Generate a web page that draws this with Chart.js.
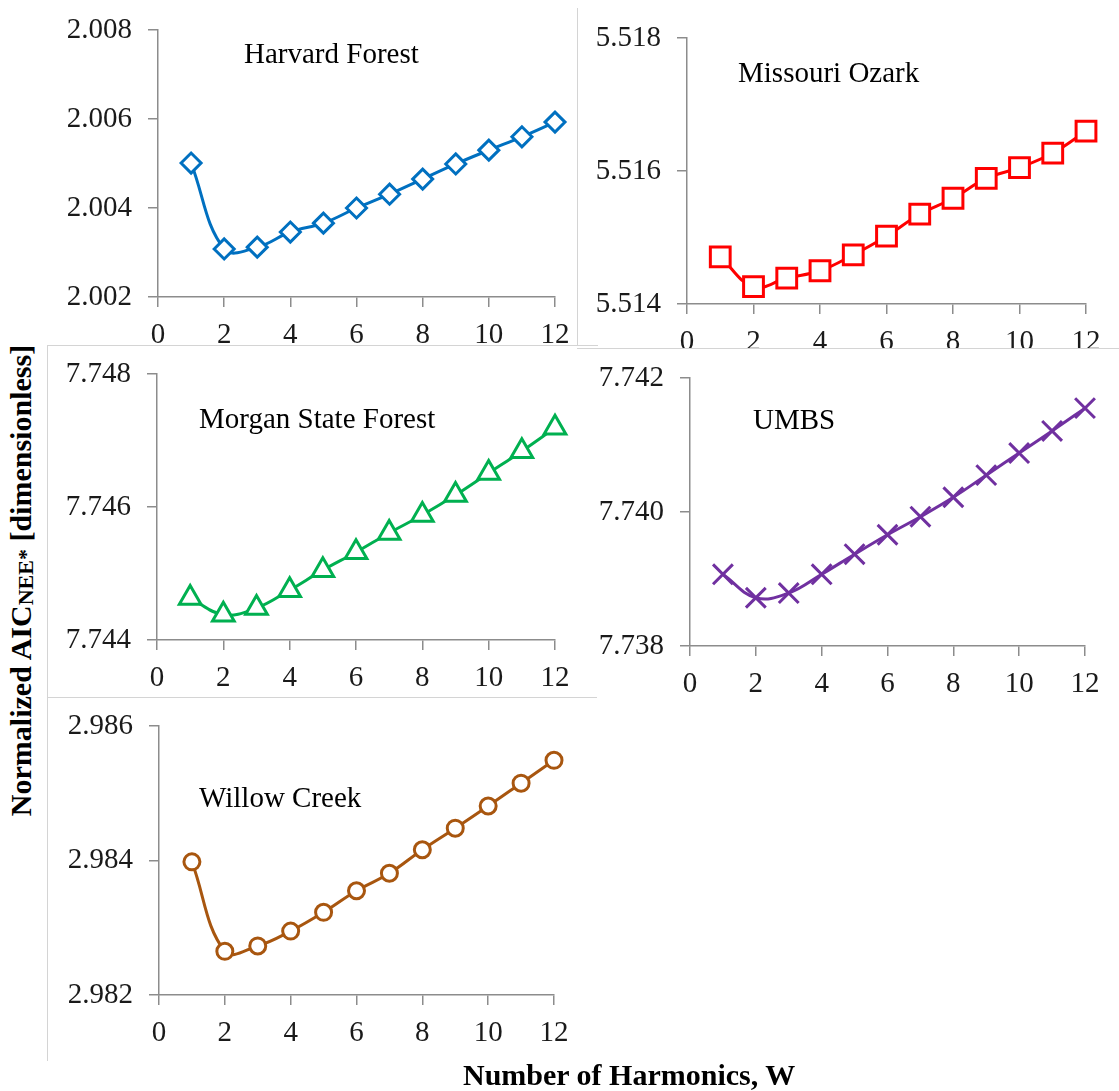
<!DOCTYPE html>
<html>
<head>
<meta charset="utf-8">
<script src="https://cdn.jsdelivr.net/npm/chart.js@4.4.1/dist/chart.umd.min.js"></script>
<style>
  body { margin: 0; background: #fff; }
  #page { position: relative; width: 1119px; height: 1091px; overflow: hidden; background: #fff; font-family: "Liberation Serif", "Times New Roman", serif; }
  canvas { position: absolute; }
  .frame { position: absolute; background: #fff; border-color: #d4d4d4; border-style: solid; border-width: 0; }
  .site { position: absolute; font-size: 29px; line-height: 1; color: #000; white-space: nowrap; }
  .axtitle { position: absolute; font-weight: bold; font-size: 30px; line-height: 1; white-space: nowrap; color: #000; }
  .axtitle sub { font-size: 22px; vertical-align: -2px; }
</style>
</head>
<body>
<div id="page">
  <div class="frame" style="left:577px;top:8px;width:0;height:340px;border-left-width:1px;background:none;"></div>
</div>
<script>
// данные с графика
var harmonics = [1, 2, 3, 4, 5, 6, 7, 8, 9, 10, 11, 12];
var xTicks = [0, 2, 4, 6, 8, 10, 12];

var harvardAIC = [2.00501, 2.00308, 2.00312, 2.00346, 2.00366, 2.00400, 2.00431, 2.00465, 2.00499, 2.00530, 2.00560, 2.00593];
var harvardTicks = [2.002, 2.004, 2.006, 2.008];

var missouriAIC = [5.51471, 5.51426, 5.51439, 5.51450, 5.51474, 5.51502, 5.51535, 5.51559, 5.51589, 5.51605, 5.51627, 5.51660];
var missouriTicks = [5.514, 5.516, 5.518];

var morganAIC = [7.74463, 7.74438, 7.74448, 7.74475, 7.74505, 7.74532, 7.74561, 7.74588, 7.74618, 7.74651, 7.74684, 7.74719];
var morganTicks = [7.744, 7.746, 7.748];

var umbsAIC = [7.73907, 7.73872, 7.73879, 7.73907, 7.73937, 7.73966, 7.73993, 7.74022, 7.74055, 7.74088, 7.74121, 7.74155];
var umbsTicks = [7.738, 7.740, 7.742];

var willowAIC = [2.98398, 2.98265, 2.98273, 2.98295, 2.98323, 2.98355, 2.98381, 2.98416, 2.98448, 2.98481, 2.98515, 2.98549];
var willowTicks = [2.982, 2.984, 2.986];

var serif = 'Liberation Serif';
Chart.defaults.font.family = serif;
Chart.defaults.font.size = 29;
Chart.defaults.color = '#1a1a1a';

var page = document.getElementById('page');
var YW = 100, PT = 22, PR = 32, XH = 60;
var axisColor = '#8c8c8c';

function addFrame(style) {
    var d = document.createElement('div');
    d.className = 'frame';
    d.setAttribute('style', style);
    page.appendChild(d);
}

function addText(cls, text, left, top) {
    var d = document.createElement('div');
    d.className = cls;
    d.innerHTML = text;
    d.style.left = left + 'px';
    d.style.top = top + 'px';
    page.appendChild(d);
    return d;
}

//панель с одним рядом
function makePanel(p) {
    var c = document.createElement('canvas');
    var w = (p.x1 - p.x0) + YW + PR;
    var h = (p.y1 - p.y0) + PT + XH;
    c.width = w;
    c.height = h;
    c.style.left = (p.x0 - YW) + 'px';
    c.style.top = (p.y0 - PT) + 'px';
    page.appendChild(c);

    var points = [];
    for (var i = 0; i < harmonics.length; i++) {
        points.push({x: harmonics[i], y: p.values[i]});
    }
    var yTicks = p.ticks;

    new Chart(c.getContext('2d'), {
        type: 'line',
        data: {
            datasets: [{
                data: points,
                borderColor: p.color,
                borderWidth: 3,
                tension: 0.4,
                pointStyle: p.marker,
                pointRadius: p.radius,
                pointBorderWidth: 3,
                pointBorderColor: p.color,
                pointBackgroundColor: '#fff',
                clip: false
            }]
        },
        options: {
            responsive: false,
            devicePixelRatio: 1,
            animation: false,
            events: [],
            layout: { padding: { top: PT, right: PR, left: 0, bottom: 0 } },
            plugins: { legend: { display: false }, tooltip: { enabled: false } },
            scales: {
                x: {
                    type: 'linear',
                    min: 0,
                    max: 12,
                    afterBuildTicks: function(s) { s.ticks = xTicks.map(function(v) { return {value: v}; }); },
                    afterFit: function(s) { s.height = XH; s.paddingLeft = 0; s.paddingRight = 0; },
                    border: { color: axisColor, width: 1.5 },
                    grid: { drawOnChartArea: false, color: axisColor, lineWidth: 1.5, tickLength: 10 },
                    ticks: { padding: 11, maxRotation: 0, font: { family: serif, size: 29 } }
                },
                y: {
                    min: yTicks[0],
                    max: yTicks[yTicks.length - 1],
                    afterBuildTicks: function(s) { s.ticks = yTicks.map(function(v) { return {value: v}; }); },
                    afterFit: function(s) { s.width = YW; s.paddingTop = 0; s.paddingBottom = 0; },
                    border: { color: axisColor, width: 1.5 },
                    grid: { drawOnChartArea: false, color: axisColor, lineWidth: 1.5, tickLength: 10 },
                    ticks: { padding: 16, font: { family: serif, size: 29 }, callback: function(v) { return v.toFixed(3); } }
                }
            }
        }
    });
}

makePanel({x0: 158, x1: 555, y0: 30, y1: 297, values: harvardAIC, ticks: harvardTicks,
    color: '#0070C0', marker: 'rectRot', radius: 10});
makePanel({x0: 687, x1: 1086, y0: 38, y1: 304, values: missouriAIC, ticks: missouriTicks,
    color: '#FF0000', marker: 'rect', radius: 14});

// рамки нижних панелей перекрывают подписи верхних
addFrame('left:47px;top:345px;width:550px;height:360px;border-left-width:1px;border-top-width:1px;');
addFrame('left:577px;top:348px;width:560px;height:360px;border-top-width:1px;');
addFrame('left:47px;top:697px;width:549px;height:363px;border-left-width:1px;border-top-width:1px;');

makePanel({x0: 157, x1: 555, y0: 374, y1: 640, values: morganAIC, ticks: morganTicks,
    color: '#00B050', marker: 'triangle', radius: 12.5});
makePanel({x0: 690, x1: 1085, y0: 378, y1: 646, values: umbsAIC, ticks: umbsTicks,
    color: '#7030A0', marker: 'crossRot', radius: 14});
makePanel({x0: 159, x1: 554, y0: 726, y1: 995, values: willowAIC, ticks: willowTicks,
    color: '#A8560F', marker: 'circle', radius: 8});

addText('site', 'Harvard Forest', 244, 39);
addText('site', 'Missouri Ozark', 738, 58);
addText('site', 'Morgan State Forest', 199, 404);
addText('site', 'UMBS', 753, 405);
addText('site', 'Willow Creek', 199, 783);

addText('axtitle', 'Number of Harmonics, W', 463, 1060);
var yt = addText('axtitle', 'Normalized AIC<sub>NEE*</sub> [dimensionless]', 0, 0);
var r = yt.getBoundingClientRect();
yt.style.left = (22 - r.width / 2) + 'px';
yt.style.top = (580 - r.height / 2) + 'px';
yt.style.transform = 'rotate(-90deg)';
</script>
</body>
</html>
